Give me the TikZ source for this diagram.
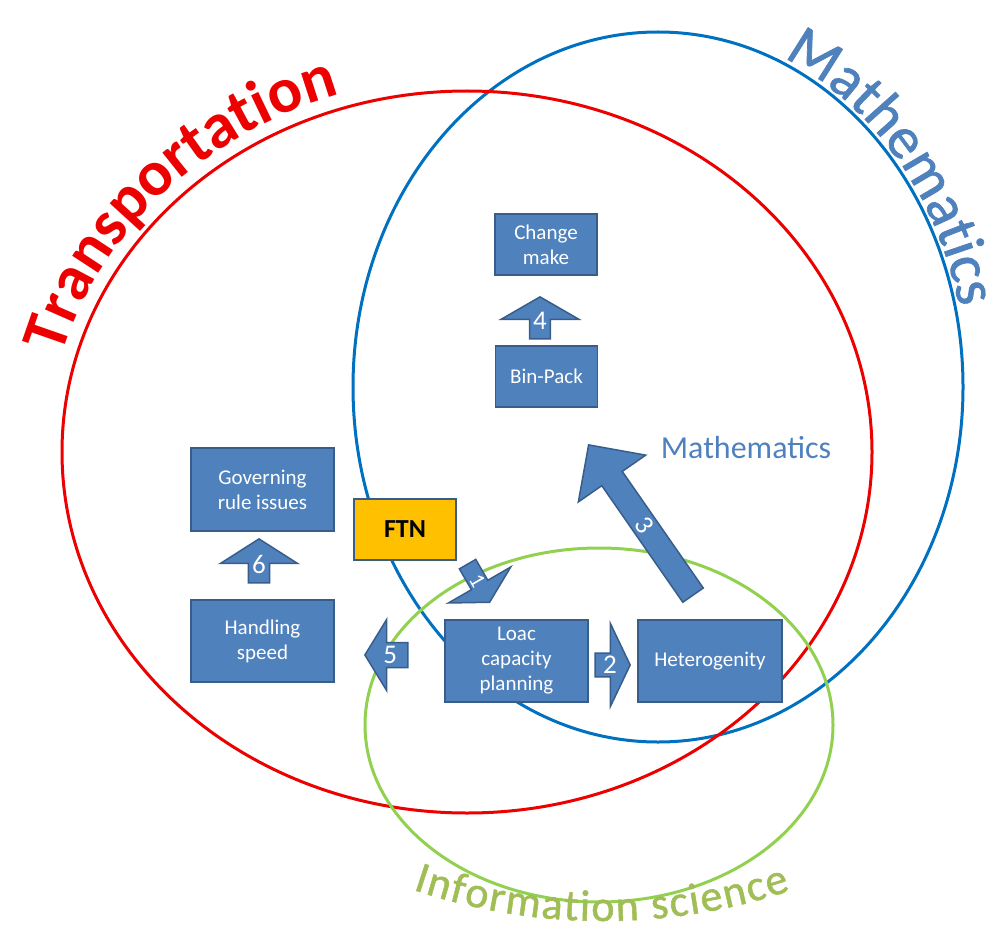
\documentclass[tikz,border=0pt]{standalone}
\usepackage{fontspec}
\setmainfont{Carlito}
\newfontfamily\fieldfont[FakeBold=1.2]{Carlito}
\usetikzlibrary{shapes.arrows,decorations.text,positioning}

\definecolor{boxfill}{RGB}{79,129,189}
\definecolor{boxline}{RGB}{56,93,138}
\definecolor{transred}{RGB}{236,0,0}
\definecolor{mathblue}{RGB}{0,112,192}
\definecolor{mathtext}{RGB}{79,129,189}
\definecolor{infogreen}{RGB}{146,208,80}
\definecolor{infotext}{RGB}{160,190,85}
\definecolor{ftnfill}{RGB}{255,192,0}

\tikzset{
  ring/.style={line width=3pt},
  topic/.style={draw=boxline, fill=boxfill, line width=1.8pt, text=white, align=center,
    font=\fontsize{21}{25}\selectfont, inner sep=0pt},
  ftnbox/.style={topic, fill=ftnfill, text=black, font=\bfseries\fontsize{26}{26}\selectfont},
  blockarrow/.style={single arrow, draw=boxline, fill=boxfill, line width=1.5pt, text=white,
    inner sep=0pt, single arrow head indent=0pt, font=\fontsize{27}{27}\selectfont, anchor=tip},
  mathnote/.style={text=mathtext, font=\fontsize{32}{32}\selectfont, inner sep=0pt}
}

\begin{document}
\begin{tikzpicture}[x=1pt,y=1pt]
\useasboundingbox (0,0) rectangle (995,-944);
% the three fields
\draw[ring, draw=mathblue] (658,-387) ellipse [x radius=305, y radius=355];
\draw[ring, draw=transred] (467,-452) ellipse [x radius=405, y radius=361];
\draw[ring, draw=infogreen] (599,-725) ellipse [x radius=234, y radius=177];

% field names along the rings
\path[decorate, decoration={text along path, text align=center, text color=transred,
    text={|\bfseries\fontsize{64}{64}\selectfont|Transportation}}]
  (467,-452) ++(178:419 and 375) arc[start angle=178, end angle=96, x radius=419, y radius=375];
\path[decorate, decoration={text along path, text align=center, text color=mathtext,
    text={|\fieldfont\fontsize{59}{59}\selectfont|Mathematics}}]
  (658,-387) ++(75:309 and 360) arc[start angle=75, end angle=5, x radius=309, y radius=360];
\path[decorate, decoration={text along path, text align=fit to path, text color=infotext,
    text={|\fieldfont\fontsize{44}{44}\selectfont|Information science}}]
  (603,-328) ++(251.3:593) arc[start angle=251.3, end angle=288.4, radius=593];

% boxes
\node[topic, minimum width=102, minimum height=61] (change) at (546,-244.5) {Change\\make};
\node[topic, minimum width=102, minimum height=61] (binpack) at (546.5,-376.5) {Bin-Pack};
\node[topic, minimum width=143, minimum height=83] (govern) at (262.5,-489.5) {Governing\\rule issues};
\node[ftnbox, minimum width=102, minimum height=61] (ftn) at (405,-529.5) {FTN};
\node[topic, minimum width=143, minimum height=82] (handling) at (262.5,-641) {Handling\\speed};
\node[topic, minimum width=143, minimum height=82] (loac) at (516.5,-661) {Loac\\capacity\\planning};
\node[topic, minimum width=144, minimum height=82] (hetero) at (710,-661) {Heterogenity};
\node[mathnote] (mathnote) at (746,-448) {Mathematics};

% numbered block arrows
\node[blockarrow, rotate=-60, minimum height=44, minimum width=72, single arrow head extend=22,
  single arrow tip angle=122, font=\fontsize{22}{22}\selectfont] (step1) at (490,-603) {1};
\node[blockarrow, minimum height=35, minimum width=83, single arrow head extend=24,
  single arrow tip angle=129] (step2) at (631,-665) {2};
\node[blockarrow, rotate=-55.2, shape border rotate=180, minimum height=183, minimum width=82,
  single arrow head extend=22, single arrow tip angle=90] (step3) at (588,-444) {3};
\node[blockarrow, shape border rotate=90, minimum height=42, minimum width=78,
  single arrow head extend=21, single arrow tip angle=120] (step4) at (540,-296) {4};
\node[blockarrow, shape border rotate=180, minimum height=43, minimum width=71,
  single arrow head extend=17.5, single arrow tip angle=117] (step5) at (364,-655) {5};
\node[blockarrow, shape border rotate=90, minimum height=44, minimum width=77,
  single arrow head extend=20, single arrow tip angle=115] (step6) at (259,-538) {6};
\end{tikzpicture}
\end{document}
